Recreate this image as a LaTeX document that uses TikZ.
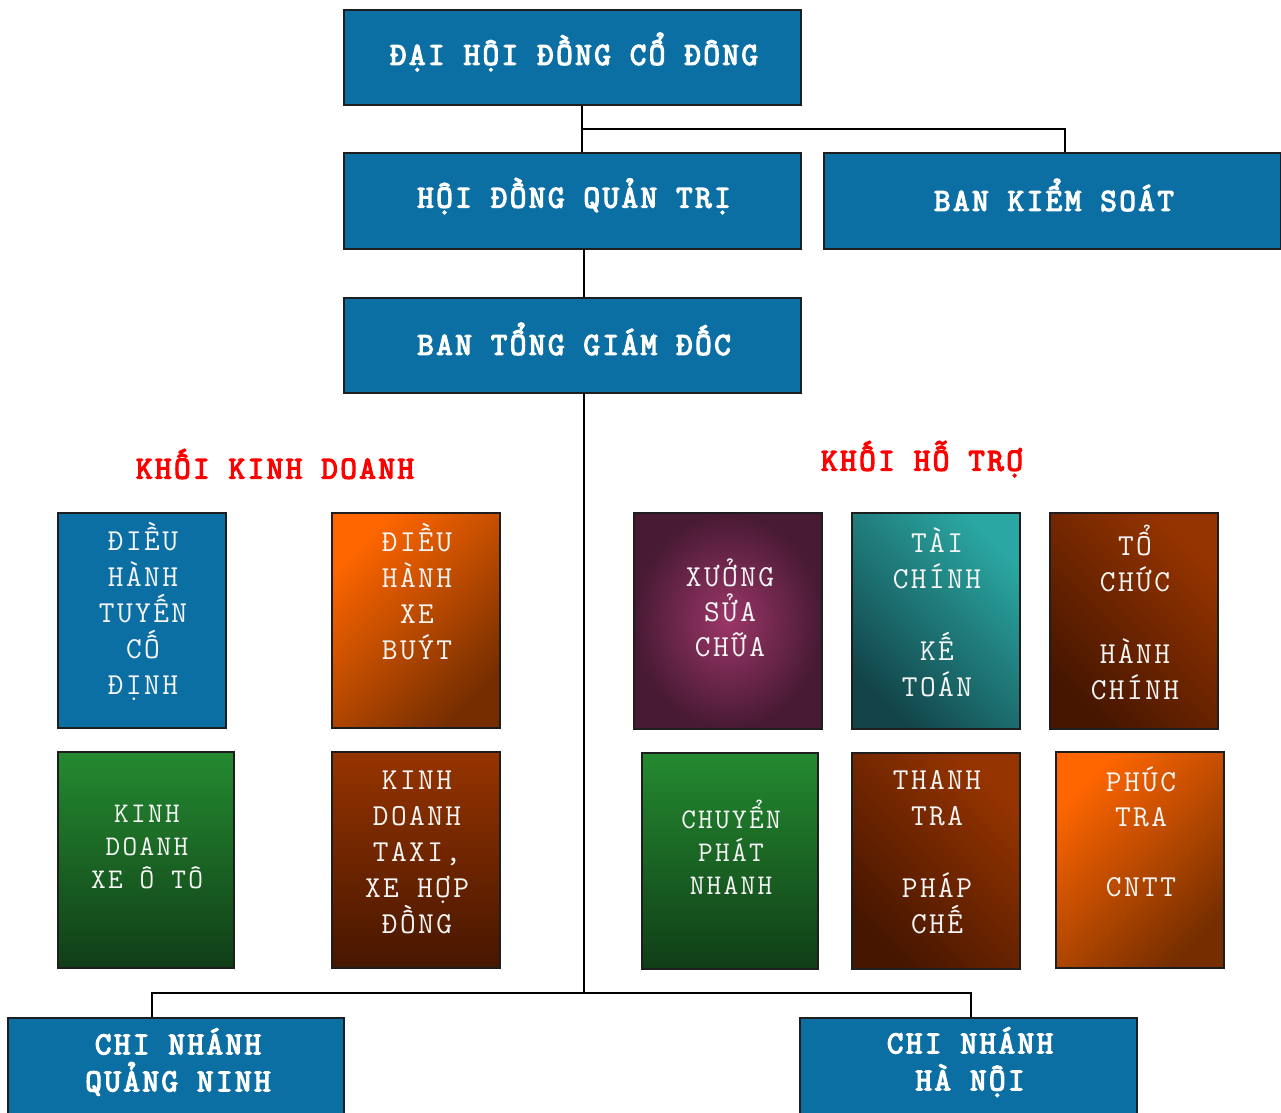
\documentclass[tikz,border=0pt]{standalone}
\usepackage{fontspec}
\setmainfont{Liberation Mono}
\newfontfamily\boxfont{Latin Modern Mono}[LetterSpace=8]
\newfontfamily\hfont{Latin Modern Mono}[LetterSpace=8, FakeBold=4]
\definecolor{cblue}{RGB}{11,111,164}
\definecolor{cbord}{RGB}{30,30,30}
\definecolor{corange}{RGB}{255,102,0}
\definecolor{corangemid}{RGB}{210,80,0}
\definecolor{cbrownd}{RGB}{118,46,0}
\definecolor{ctealL}{RGB}{42,167,162}
\definecolor{ctealD}{RGB}{18,68,73}
\definecolor{crustL}{RGB}{150,52,0}
\definecolor{crustD}{RGB}{70,22,0}
\definecolor{cgreenT}{RGB}{36,138,48}
\definecolor{cgreenM}{RGB}{29,110,40}
\definecolor{cgreenB}{RGB}{16,62,23}
\definecolor{cpurpI}{RGB}{155,54,104}
\definecolor{cpurpO}{RGB}{72,26,52}
\definecolor{ctext}{RGB}{245,245,245}
\begin{document}
\begin{tikzpicture}[x=1pt,y=-1pt,
  hbox/.style={draw=cbord, line width=1.6pt, fill=cblue, inner sep=0pt},
  cbox/.style={draw=cbord, line width=1.6pt, inner sep=0pt, minimum width=168pt, minimum height=215pt},
  htext/.style={text=white, font=\fontsize{32}{37}\selectfont\hfont, align=center, inner sep=0pt},
  btext/.style={text=ctext, font=\fontsize{30.5}{36}\selectfont\boxfont, align=center, inner sep=0pt},
  gtext/.style={text=ctext, font=\fontsize{28.5}{33}\selectfont\boxfont, align=center, inner sep=0pt},
  rtext/.style={text=red, font=\fontsize{32}{37}\selectfont\hfont, inner sep=0pt},
  conn/.style={draw=black, line width=1.6pt},
  sblue/.style={fill=cblue},
  sorange/.style={top color=corange, middle color=corangemid, bottom color=cbrownd, shading angle=45},
  steal/.style={top color=ctealL, bottom color=ctealD, shading angle=-45},
  srust/.style={top color=crustL, bottom color=crustD, shading angle=-45},
  srustv/.style={top color=crustL, bottom color=crustD},
  sgreen/.style={top color=cgreenT, middle color=cgreenM, bottom color=cgreenB},
  spurp/.style={inner color=cpurpI, outer color=cpurpO}
]
\useasboundingbox (0,0) rectangle (1281,1112);
\clip (0,0) rectangle (1281,1112);

% ---- top boxes
\node[hbox, minimum width=457pt, minimum height=95pt] (dh) at (572.5,57.5) {};
\node[htext] (dht) at (574,52) {ĐẠI HỘI ĐỒNG CỔ ĐÔNG};
\node[hbox, minimum width=457pt, minimum height=96pt] (hd) at (572.5,201) {};
\node[htext] (hdt) at (574,196) {HỘI ĐỒNG QUẢN TRỊ};
\node[hbox, minimum width=457pt, minimum height=96pt] (bks) at (1052.5,201) {};
\node[htext] (bkst) at (1054,195) {BAN KIỂM SOÁT};
\node[hbox, minimum width=457pt, minimum height=95pt] (tgd) at (572.5,345.5) {};
\node[htext] (tgdt) at (574,339) {BAN TỔNG GIÁM ĐỐC};

% ---- section titles
\node[rtext] (kkd) at (275,464) {KHỐI KINH DOANH};
\node[rtext] (kht) at (922,459) {KHỐI HỖ TRỢ};

% ---- business boxes
\node[cbox, sblue] (b1) at (142,620.5) {};
\node[btext] (b1t) at (143,611) {ĐIỀU\\HÀNH\\TUYẾN\\CỐ\\ĐỊNH};
\node[cbox, sorange] (b2) at (416,620.5) {};
\node[btext] (b2t) at (417,592) {ĐIỀU\\HÀNH\\XE\\BUÝT};
\node[cbox, sgreen, minimum width=176pt, minimum height=216pt] (b3) at (146,860) {};
\node[gtext] (b3t) at (147,847) {KINH\\DOANH\\XE Ô TÔ};
\node[cbox, srustv, minimum height=216pt] (b4) at (416,860) {};
\node[btext] (b4t) at (417,852) {KINH\\DOANH\\TAXI,\\XE HỢP\\ĐỒNG};

% ---- support boxes
\node[cbox, spurp, minimum width=188pt, minimum height=216pt] (s1) at (728,621) {};
\node[btext, font=\fontsize{30.5}{35}\selectfont\boxfont] (s1t) at (730,608) {XƯỞNG\\SỬA\\CHỮA};
\node[cbox, steal, minimum height=216pt] (s2) at (936,621) {};
\node[btext] (s2t) at (937,612) {TÀI\\CHÍNH\\[36pt]KẾ\\TOÁN};
\node[cbox, srust, minimum height=216pt] (s3) at (1134,621) {};
\node[btext] (s3t) at (1135,612) {TỔ\\CHỨC\\[36pt]HÀNH\\CHÍNH};
\node[cbox, sgreen, minimum width=176pt, minimum height=216pt] (s4) at (730,861) {};
\node[gtext] (s4t) at (731,847) {CHUYỂN\\PHÁT\\NHANH};
\node[cbox, srust, minimum height=216pt] (s5) at (936,861) {};
\node[btext] (s5t) at (937,852) {THANH\\TRA\\[36pt]PHÁP\\CHẾ};
\node[cbox, sorange, minimum height=216pt] (s6) at (1140,860) {};
\node[btext, font=\fontsize{30.5}{35}\selectfont\boxfont] (s6t) at (1141,832) {PHÚC\\TRA\\[35pt]CNTT};

% ---- branches
\node[hbox, minimum width=336pt, minimum height=120pt] (cq) at (176,1078) {};
\node[htext] (cqt) at (178,1062) {CHI NHÁNH\\QUẢNG NINH};
\node[hbox, minimum width=337pt, minimum height=120pt] (cn) at (968.5,1078) {};
\node[htext] (cnt) at (970,1062) {CHI NHÁNH\\HÀ NỘI};

% ---- connectors
\coordinate (j1) at (582,129);
\coordinate (j2) at (584,993);
\draw[conn] ([xshift=9.5pt]dh.south) -- ([xshift=9.5pt]hd.north);
\draw[conn] (j1) -| ([xshift=12.5pt]bks.north);
\draw[conn] ([xshift=11.5pt]hd.south) -- ([xshift=11.5pt]tgd.north);
\draw[conn] ([xshift=11.5pt]tgd.south) -- (j2);
\draw[conn] (j2) -| ([xshift=-24pt]cq.north);
\draw[conn] (j2) -| ([xshift=2.5pt]cn.north);
\end{tikzpicture}
\end{document}
